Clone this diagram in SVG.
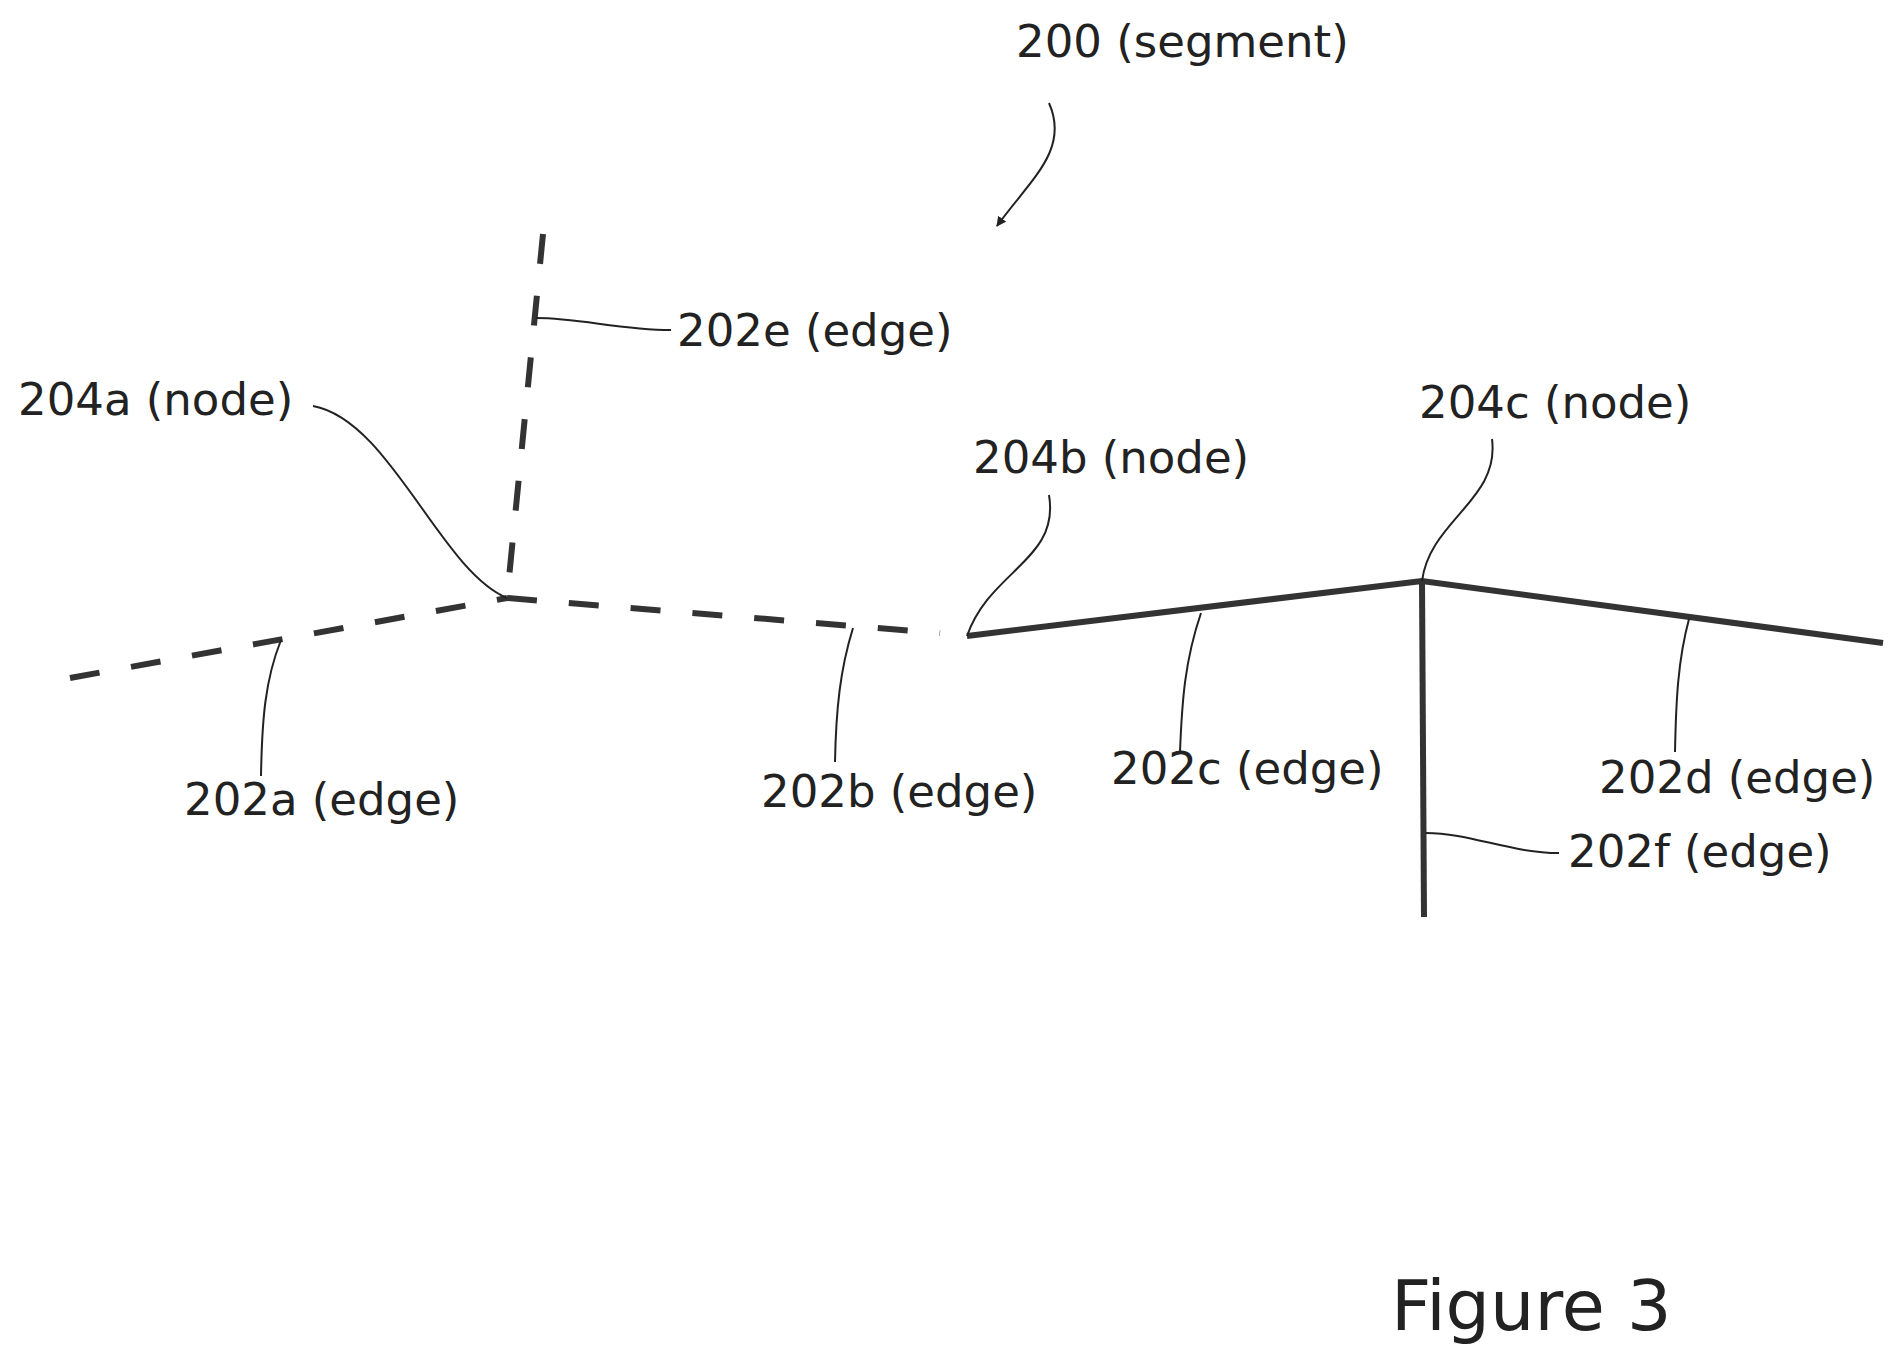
<svg xmlns="http://www.w3.org/2000/svg" width="1902" height="1366" viewBox="0 0 1902 1366">
<defs>
<style>
text{font-family:"DejaVu Sans",sans-serif;font-size:45px;fill:#222}
.e{stroke:#333;stroke-width:6;fill:none}
.d{stroke-dasharray:30 32}
.l{stroke:#222;stroke-width:2;fill:none}
</style>
<marker id="ah" viewBox="0 0 10 10" refX="9" refY="5" markerWidth="10" markerHeight="10" orient="auto" markerUnits="userSpaceOnUse"><path d="M0,0L10,5L0,10z" fill="#222"/></marker>
</defs>
<rect width="1902" height="1366" fill="#fff"/>
<g id="edges">
<path class="e d" d="M70,678L507,598"/>
<path class="e d" d="M543,234L507,598"/>
<path class="e d" d="M507,598L940,633"/>
<path class="e" d="M967,636L1422,581L1883,643"/>
<path class="e" d="M1422,581L1424,917"/>
</g>
<g id="connectors">
<path class="l" d="M1049,103C1070,150 1030,180 997,226" marker-end="url(#ah)"/>
<path class="l" d="M536,318C580,318 620,330 671,330"/>
<path class="l" d="M313,406C390,420 440,570 507,598"/>
<path class="l" d="M1049,495C1060,560 990,570 967,636"/>
<path class="l" d="M1492,439C1500,500 1430,520 1422,581"/>
<path class="l" d="M281,640C265,680 262,720 261,776"/>
<path class="l" d="M853,628C840,670 836,710 835,762"/>
<path class="l" d="M1201,613C1185,660 1182,700 1180,752"/>
<path class="l" d="M1689,619C1678,660 1676,700 1675,752"/>
<path class="l" d="M1426,833C1470,833 1510,853 1559,853"/>
</g>
<g id="labels">
<text x="1016" y="57">200 (segment)</text>
<text x="677" y="346">202e (edge)</text>
<text x="18" y="415">204a (node)</text>
<text x="973" y="473">204b (node)</text>
<text x="1419" y="418">204c (node)</text>
<text x="184" y="815">202a (edge)</text>
<text x="761" y="807">202b (edge)</text>
<text x="1111" y="784">202c (edge)</text>
<text x="1599" y="793">202d (edge)</text>
<text x="1568" y="867">202f (edge)</text>
<text x="1391" y="1330" style="font-size:70px">Figure 3</text>
</g>
</svg>
